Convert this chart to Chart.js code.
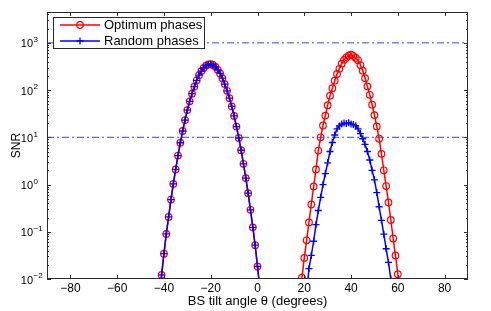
<!DOCTYPE html>
<html>
<head>
<meta charset="utf-8">
<script src="https://cdn.jsdelivr.net/npm/chart.js@4.4.0/dist/chart.umd.min.js"></script>
<style>
  html, body { margin: 0; padding: 0; background: #fff; }
</style>
</head>
<body>
<canvas id="snrChart" width="491" height="311"></canvas>
<script>
// tilt angles (degrees) and SNR values
const leftAngles = [-42, -41, -40, -39, -38, -37, -36, -35, -34, -33, -32, -31, -30, -29, -28, -27, -26, -25, -24, -23, -22, -21, -20,
    -19, -18, -17, -16, -15, -14, -13, -12, -11, -10, -9, -8, -7, -6, -5, -4, -3, -2, -1, 0, 1, 2];
// both series are on top of each other around -20 deg
const leftSnr = [0.0043, 0.0122, 0.0343, 0.0902, 0.206, 0.481, 1.03, 2.09, 4.11, 7.67, 13.6, 23.2, 37.8, 57.7, 84.1, 118, 161, 207, 252, 294, 330, 349, 352,
    340, 310, 269, 225, 179, 134, 96.6, 67.5, 45.0, 28.4, 16.9, 9.66, 5.32, 2.75, 1.37, 0.658, 0.292, 0.124, 0.0519, 0.0184, 0.0065, 0.0023];

const rightAngles = [18, 19, 20, 21, 22, 23, 24, 25, 26, 27, 28, 29, 30, 31, 32, 33, 34, 35, 36, 37, 38, 39, 40,
    41, 42, 43, 44, 45, 46, 47, 48, 49, 50, 51, 52, 53, 54, 55, 56, 57, 58, 59, 60, 61, 62];
const rightOptimum = [0.0035, 0.0107, 0.028, 0.066, 0.158, 0.38, 0.91, 2.09, 5.25, 10.0, 17.8, 28.8, 47.9, 75.9, 110, 158, 219, 282, 363, 437, 490, 537, 562,
    525, 479, 427, 339, 257, 178, 120, 79.4, 49.0, 29.5, 17.0, 9.33, 4.47, 2.0, 0.93, 0.417, 0.178, 0.072, 0.0316, 0.0126, 0.0045, 0.0016];
const rightRandom = [0.0003, 0.0008, 0.002, 0.005, 0.0166, 0.0316, 0.063, 0.141, 0.282, 0.537, 1.0, 1.70, 2.88, 5.01, 7.76, 11.2, 15.1, 17.4, 19.1, 20.0, 19.5, 20.4, 19.1,
    18.6, 17.4, 15.1, 12.0, 9.33, 7.08, 5.01, 3.31, 2.0, 1.26, 0.676, 0.339, 0.174, 0.089, 0.0437, 0.0224, 0.01, 0.0032, 0.001, 0.0003, 0.0001, 0.00004];

const refLevels = [1000, 10];          // dash-dot threshold lines
const xTicks = [-80, -60, -40, -20, 0, 20, 40, 60, 80];
const yPowers = [-2, -1, 0, 1, 2, 3];
const seriesNames = ["Optimum phases", "Random phases"];

const FONT = "'Liberation Sans', Arial, Helvetica, sans-serif";
const RED = "#ff0000";
const BLUE = "#0000ff";

const toPoints = (xs, ys) => xs.map((x, i) => ({ x: x, y: ys[i] }));
const joinHumps = (left, right) => left.concat([{ x: 10, y: null }], right);

const supDigits = { "-": "\u2212" };
const minus = (v) => String(v).replace("-", "\u2212");

// frame, inward ticks and the 10^n labels (MATLAB style)
const matlabAxes = {
    id: "matlabAxes",
    afterDraw(chart) {
        const { ctx, chartArea: a, scales } = chart;
        const x = scales.x, y = scales.y;
        ctx.save();
        ctx.strokeStyle = "#2b2b2b";
        ctx.lineWidth = 1;
        ctx.beginPath();
        xTicks.forEach((v) => {
            const px = Math.round(x.getPixelForValue(v)) + 0.5;
            ctx.moveTo(px, a.bottom); ctx.lineTo(px, a.bottom - 4);
            ctx.moveTo(px, a.top); ctx.lineTo(px, a.top + 4);
        });
        yPowers.forEach((p) => {
            for (let m = 1; m < 10; m++) {
                const v = m * Math.pow(10, p);
                if (v > y.max) break;
                const py = Math.round(y.getPixelForValue(v)) + 0.5;
                const len = m === 1 ? 4 : 2;
                ctx.moveTo(a.left, py); ctx.lineTo(a.left + len, py);
                ctx.moveTo(a.right, py); ctx.lineTo(a.right - len, py);
            }
        });
        ctx.stroke();
        ctx.strokeRect(Math.round(a.left) + 0.5, Math.round(a.top) + 0.5,
            Math.round(a.right - a.left) - 1, Math.round(a.bottom - a.top) - 1);

        // y tick labels 10^n
        ctx.fillStyle = "#000";
        yPowers.forEach((p) => {
            const py = y.getPixelForValue(Math.pow(10, p));
            ctx.font = "11px " + FONT;
            ctx.textAlign = "right";
            ctx.textBaseline = "middle";
            ctx.fillText("10", 33, py + 1.5);
            ctx.font = "8px " + FONT;
            ctx.textAlign = "left";
            ctx.fillText(minus(p), 33.5, py - 3);
        });

        // legend box, top-left inside the axes
        const bx = 53, by = 17, bw = 151, bh = 31;
        ctx.fillStyle = "#fff";
        ctx.fillRect(bx, by, bw, bh);
        ctx.strokeStyle = "#2b2b2b";
        ctx.strokeRect(bx + 0.5, by + 0.5, bw, bh);
        const rows = [25, 41];
        chart.data.datasets.filter((d) => seriesNames.includes(d.label)).forEach((d) => {
            const ry = rows[seriesNames.indexOf(d.label)];
            ctx.strokeStyle = d.borderColor;
            ctx.lineWidth = 1.5;
            ctx.beginPath();
            ctx.moveTo(60, ry); ctx.lineTo(100, ry);
            ctx.stroke();
            ctx.lineWidth = d.pointBorderWidth;
            ctx.beginPath();
            if (d.pointStyle === "circle") {
                ctx.arc(80, ry, d.pointRadius, 0, Math.PI * 2);
            } else {
                ctx.moveTo(80 - d.pointRadius, ry); ctx.lineTo(80 + d.pointRadius, ry);
                ctx.moveTo(80, ry - d.pointRadius); ctx.lineTo(80, ry + d.pointRadius);
            }
            ctx.stroke();
            ctx.fillStyle = "#000";
            ctx.font = "13px " + FONT;
            ctx.textAlign = "left";
            ctx.textBaseline = "middle";
            ctx.fillText(d.label, 104, ry + 0.5);
        });
        ctx.restore();
    },
};

const refDatasets = refLevels.map((lvl) => ({
    label: "ref " + lvl,
    data: [{ x: -90, y: lvl }, { x: 90, y: lvl }],
    borderColor: "#2f44ff",
    borderWidth: 1,
    borderDash: [7, 3, 2, 3],
    pointRadius: 0,
    order: 3,
    clip: 0,
}));

const config = {
    type: "line",
    data: {
        datasets: [
            {
                label: seriesNames[0],
                data: joinHumps(toPoints(leftAngles, leftSnr), toPoints(rightAngles, rightOptimum)),
                borderColor: RED,
                borderWidth: 1.5,
                pointStyle: "circle",
                pointRadius: 3.3,
                pointBorderWidth: 1.2,
                pointBorderColor: RED,
                pointBackgroundColor: "rgba(0,0,0,0)",
                tension: 0,
                spanGaps: false,
                order: 2,
                clip: 0,
            },
            {
                label: seriesNames[1],
                data: joinHumps(toPoints(leftAngles, leftSnr), toPoints(rightAngles, rightRandom)),
                borderColor: BLUE,
                borderWidth: 1.5,
                pointStyle: "cross",
                pointRadius: 3.5,
                pointBorderWidth: 1.3,
                pointBorderColor: BLUE,
                tension: 0,
                spanGaps: false,
                order: 1,
                clip: 0,
            },
            ...refDatasets,
        ],
    },
    options: {
        responsive: false,
        animation: false,
        devicePixelRatio: 1,
        layout: { padding: { left: 0, top: 12, right: 23, bottom: 0 } },
        plugins: {
            legend: { display: false },
            tooltip: { enabled: false },
        },
        scales: {
            x: {
                type: "linear",
                min: -90,
                max: 90,
                grid: { display: false, drawTicks: false },
                border: { display: false },
                afterBuildTicks: (scale) => { scale.ticks = xTicks.map((v) => ({ value: v })); },
                afterFit: (scale) => { scale.height = 32; },
                ticks: {
                    padding: 2,
                    color: "#000",
                    font: { family: FONT, size: 12 },
                    callback: (v) => minus(v),
                },
                title: {
                    display: true,
                    text: "BS tilt angle \u03b8 (degrees)",
                    color: "#000",
                    font: { family: FONT, size: 13 },
                    padding: { top: 0, bottom: 2 },
                },
            },
            y: {
                type: "logarithmic",
                min: 0.01,
                max: 4500,
                grid: { display: false, drawTicks: false },
                border: { display: false },
                ticks: { display: false },
                afterFit: (scale) => { scale.width = 47; },
                title: {
                    display: true,
                    text: "SNR",
                    color: "#000",
                    font: { family: FONT, size: 12 },
                    padding: { top: 9, bottom: 0 },
                },
            },
        },
    },
    plugins: [matlabAxes],
};

const snrChart = new Chart(document.getElementById("snrChart").getContext("2d"), config);
</script>
</body>
</html>
